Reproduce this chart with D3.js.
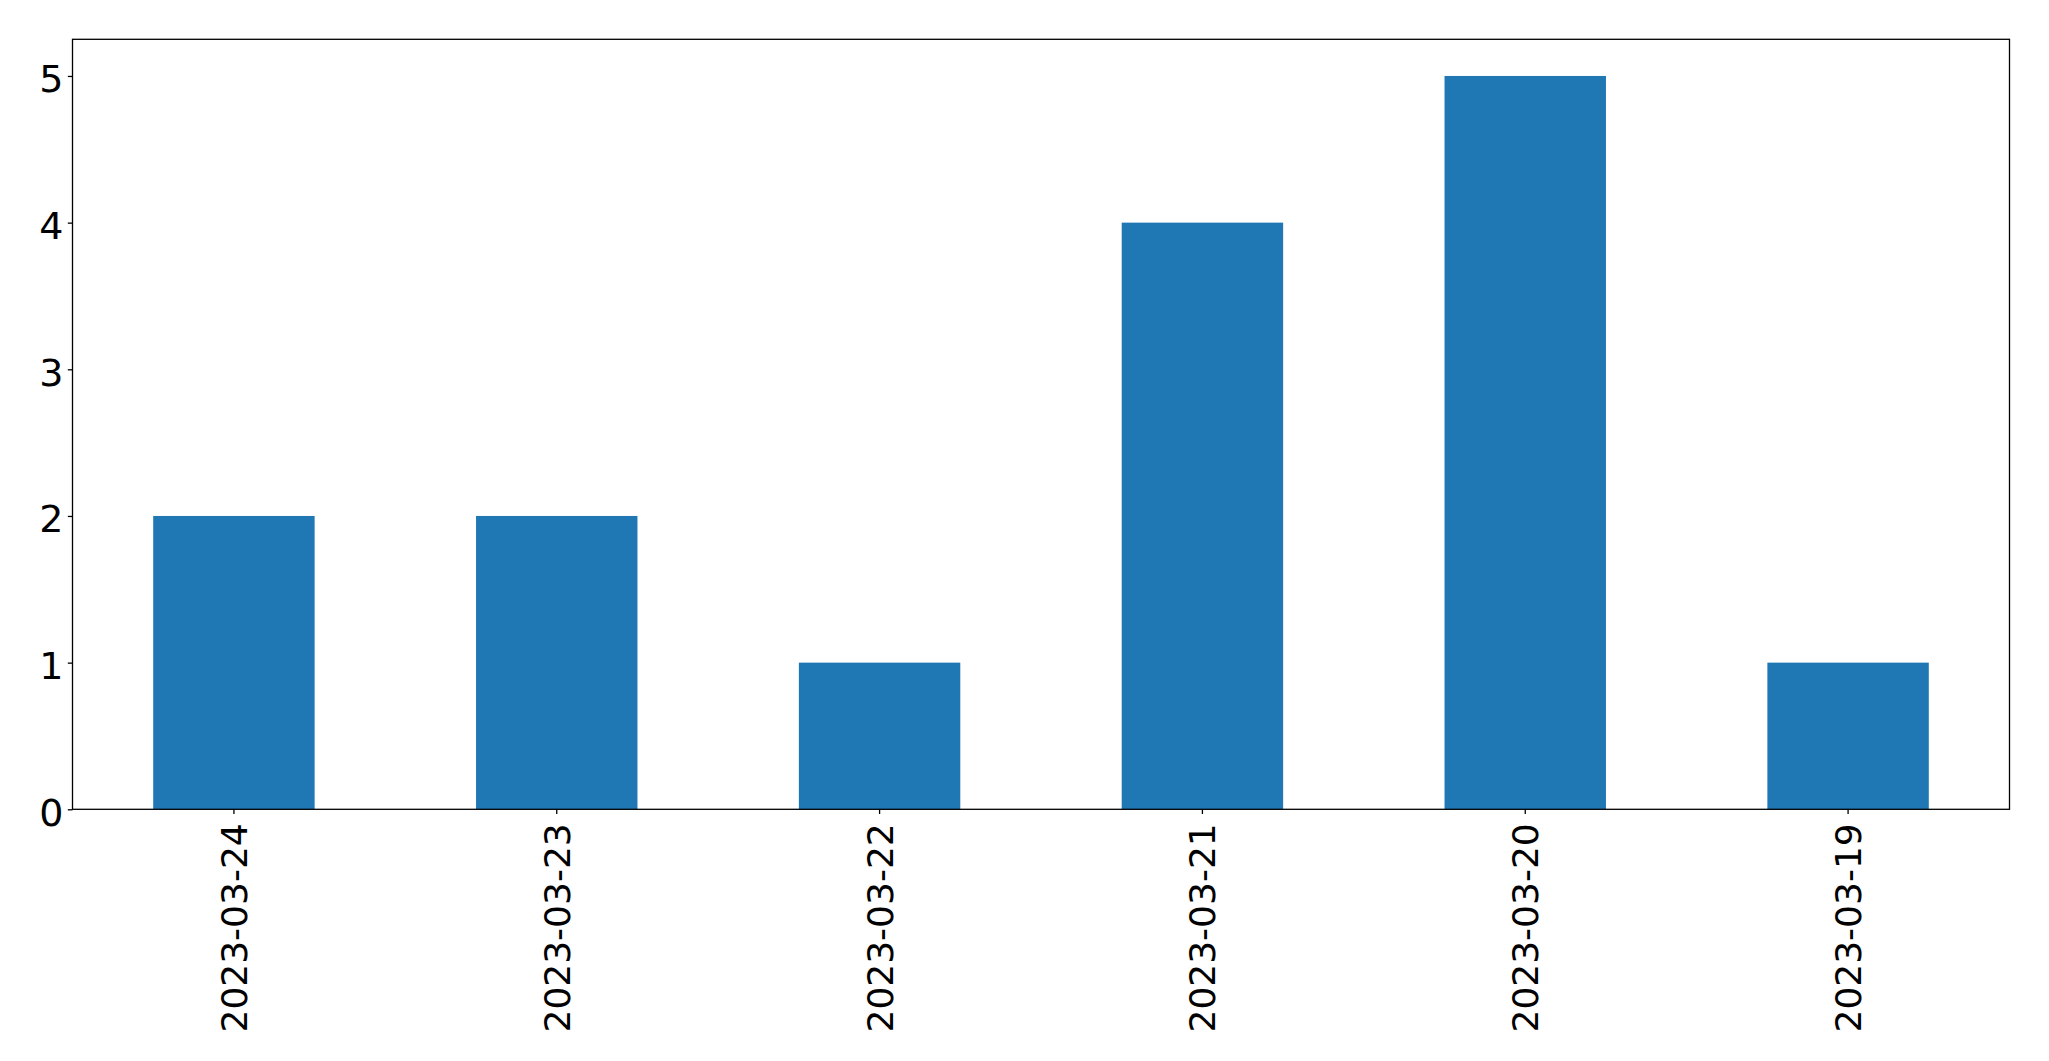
<!DOCTYPE html>
<html>
<head>
<meta charset="utf-8">
<script src="https://cdn.jsdelivr.net/npm/d3@7"></script>
<style>
  html, body { margin: 0; padding: 0; background: #fff; }
  svg { display: block; }
  text { font-family: "DejaVu Sans", sans-serif; fill: #000; }
</style>
</head>
<body>
<svg id="chart" width="2049" height="1061"></svg>
<script>
const categories = ["2023-03-24", "2023-03-23", "2023-03-22", "2023-03-21", "2023-03-20", "2023-03-19"];
const values = [2, 2, 1, 4, 5, 1];
const yTicks = [0, 1, 2, 3, 4, 5];

const W = 2049, H = 1061;
const margin = { left: 72.5, right: W - 2009.5, top: 39.3, bottom: H - 809.3 };
const svg = d3.select("#chart");
const pw = W - margin.left - margin.right;
const ph = H - margin.top - margin.bottom;

const x = d3.scaleBand().domain(categories).range([margin.left, margin.left + pw]).paddingInner(0.5).paddingOuter(0.25);
const y = d3.scaleLinear().domain([0, 5.25]).range([margin.top + ph, margin.top]);

svg.append("g").selectAll("rect").data(values).join("rect")
  .attr("x", (d, i) => x(categories[i]))
  .attr("y", d => y(d))
  .attr("width", x.bandwidth())
  .attr("height", d => y(0) - y(d))
  .attr("fill", "#1f77b4");

// frame
svg.append("rect")
  .attr("x", margin.left).attr("y", margin.top)
  .attr("width", pw).attr("height", ph)
  .attr("fill", "none").attr("stroke", "#000").attr("stroke-width", 1.3);

const fs = 36;
// y axis
const yAxis = d3.axisLeft(y).tickValues(yTicks).tickFormat(d3.format("d")).tickSize(4.7).tickPadding(4.5);
const gy = svg.append("g").attr("transform", `translate(${margin.left},0)`).call(yAxis);
gy.select(".domain").remove();
gy.selectAll(".tick line").attr("stroke", "#000").attr("stroke-width", 1.3);
gy.selectAll(".tick text").attr("font-size", 38).attr("font-family", "DejaVu Sans, sans-serif").attr("fill", "#000")
  .attr("dy", "0.42em");

// x axis
const xAxis = d3.axisBottom(x).tickSize(4.7).tickPadding(0);
const gx = svg.append("g").attr("transform", `translate(0,${margin.top + ph})`).call(xAxis);
gx.select(".domain").remove();
gx.selectAll(".tick line").attr("stroke", "#000").attr("stroke-width", 1.3);
gx.selectAll(".tick text")
  .attr("font-size", fs).attr("font-family", "DejaVu Sans, sans-serif").attr("fill", "#000")
  .attr("text-anchor", "end")
  .attr("x", 0).attr("y", 0).attr("dy", "0.36em")
  .attr("transform", "translate(0,14) rotate(-90)");
</script>
</body>
</html>
